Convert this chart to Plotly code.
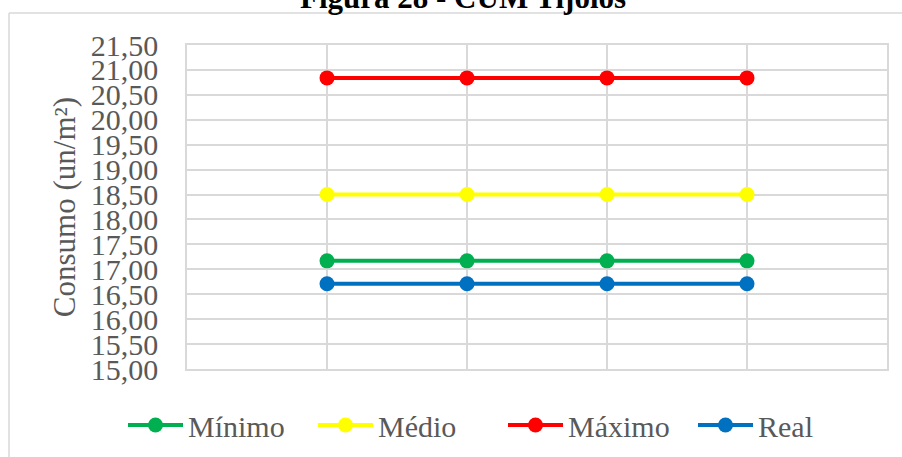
import plotly.graph_objects as go

# Consumo unitário de tijolos (un/m²) por série
x_pos = [1, 2, 3, 4]
series_names = ["Mínimo", "Médio", "Máximo", "Real"]
minimo = [17.17, 17.17, 17.17, 17.17]
medio = [18.50, 18.50, 18.50, 18.50]
maximo = [20.84, 20.84, 20.84, 20.84]
real = [16.71, 16.71, 16.71, 16.71]
y_ticks = [15.0 + 0.5 * i for i in range(14)]
y_tick_text = [f"{v:.2f}".replace(".", ",") for v in y_ticks]

colors = ["#00b050", "#ffff00", "#ff0000", "#0070c0"]
values = [minimo, medio, maximo, real]

FONT = "Liberation Serif"
W, H = 902, 457
L, R, T, B = 187, 15, 45, 88

fig = go.Figure()
for name, ys, c in zip(series_names, values, colors):
    fig.add_trace(go.Scatter(
        x=x_pos, y=ys, name=name, mode="lines+markers",
        line=dict(color=c, width=4),
        marker=dict(color=c, size=15),
    ))

pw, ph = W - L - R, H - T - B

def px_x(p):
    return (p - L) / pw

def px_y(p):
    return (H - B - p) / ph

fig.update_layout(
    width=W, height=H,
    margin=dict(l=L, r=R, t=T, b=B, autoexpand=False),
    paper_bgcolor="white", plot_bgcolor="white",
    font=dict(family=FONT, size=30, color="#595959"),
    showlegend=True,
    legend=dict(
        orientation="h", x=px_x(123), y=px_y(425), xanchor="left", yanchor="middle",
        font=dict(family=FONT, size=30, color="#595959"),
        itemwidth=55, entrywidth=120, itemclick=False, bgcolor="rgba(0,0,0,0)",
    ),
    xaxis=dict(
        range=[0, 5], dtick=1, tick0=0, showticklabels=False,
        showgrid=True, gridcolor="#d9d9d9", gridwidth=1.5,
        showline=True, linecolor="#d9d9d9", linewidth=1.5, mirror=True,
        zeroline=False, fixedrange=True,
    ),
    yaxis=dict(
        range=[15, 21.5], tickmode="array", tickvals=y_ticks, ticktext=y_tick_text,
        showgrid=True, gridcolor="#d9d9d9", gridwidth=1.5,
        showline=True, linecolor="#d9d9d9", linewidth=1.5, mirror=True,
        zeroline=False, ticks="", ticklabelstandoff=21,
        tickfont=dict(family=FONT, size=30, color="#595959"),
        title=dict(text="Consumo (un/m²)", standoff=6,
                   font=dict(family=FONT, size=31, color="#595959")),
        fixedrange=True,
    ),
    annotations=[dict(
        text="<b>Figura 28 - CUM Tijolos</b>", xref="paper", yref="paper",
        x=px_x(463), y=px_y(-3), xanchor="center", yanchor="middle",
        showarrow=False, font=dict(family=FONT, size=31, color="black"),
    )],
    shapes=[
        dict(type="line", xref="paper", yref="paper", x0=px_x(9), x1=px_x(905),
             y0=px_y(13), y1=px_y(13), line=dict(color="#d9d9d9", width=1.5)),
        dict(type="line", xref="paper", yref="paper", x0=px_x(9), x1=px_x(9),
             y0=px_y(13), y1=px_y(460), line=dict(color="#d9d9d9", width=1.5)),
    ],
)

fig.write_html("out.html")
